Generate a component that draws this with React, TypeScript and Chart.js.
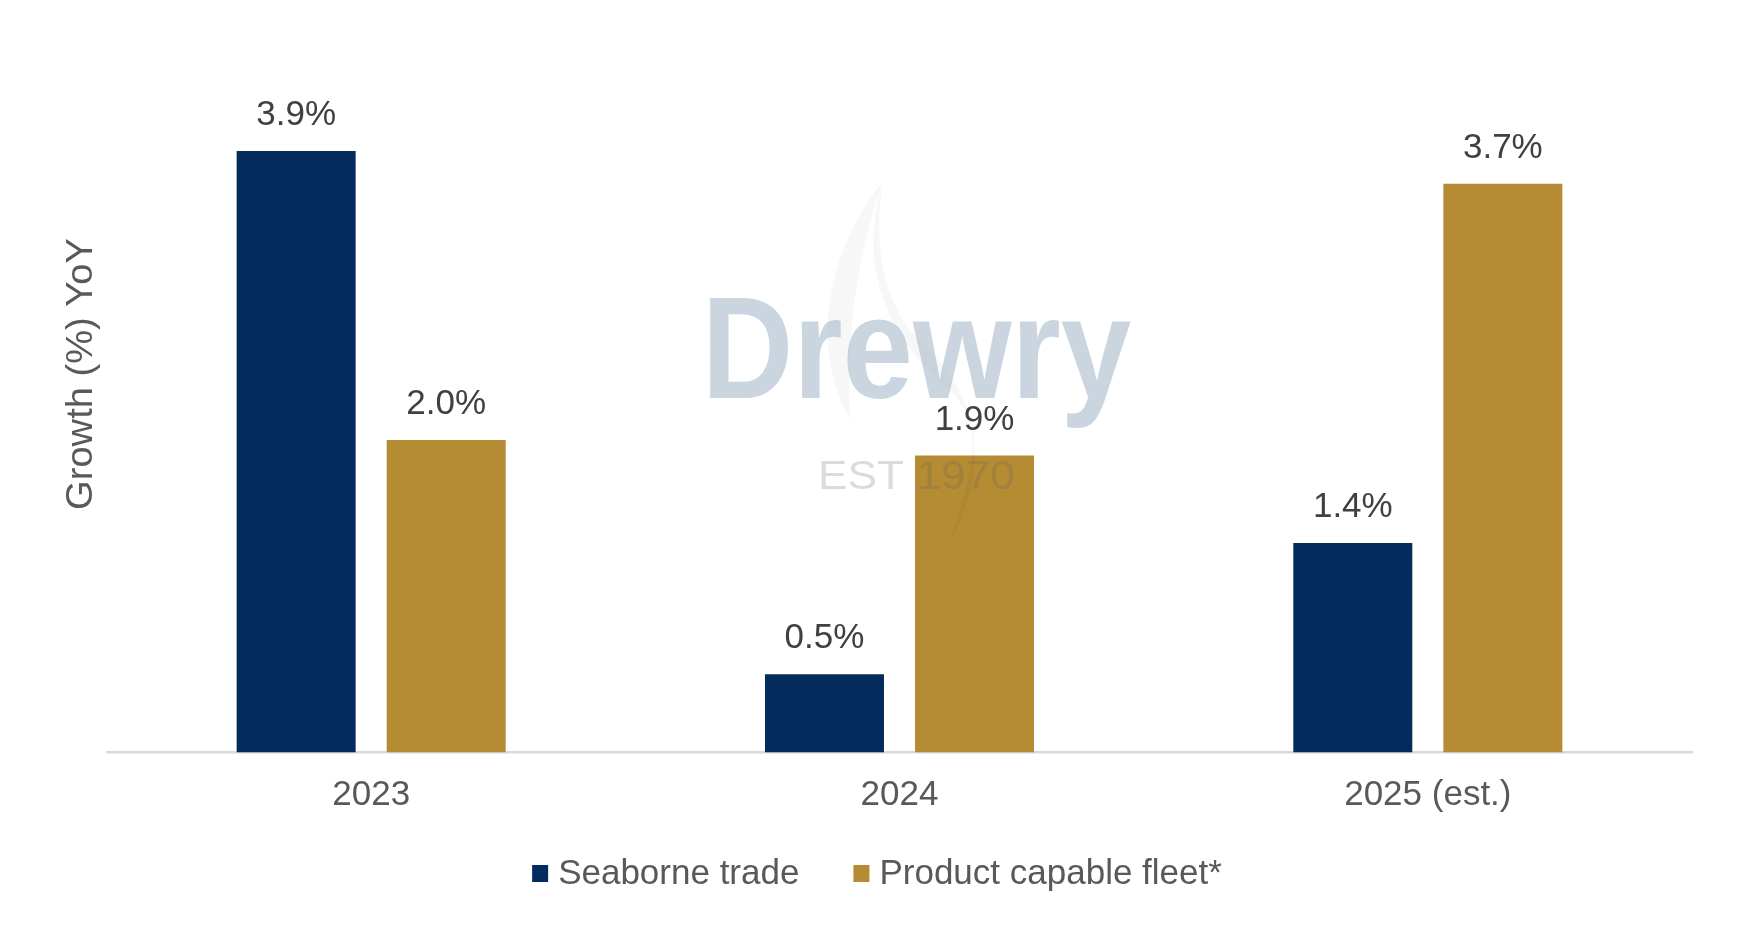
import React, { useEffect, useRef } from "react";
import { Chart, registerables, Plugin } from "chart.js";

Chart.register(...registerables);

const FONT = '"Liberation Sans", Arial, sans-serif';

// data
const years = ["2023", "2024", "2025 (est.)"];
const seaborneTrade = [3.85, 0.5, 1.34];
const productFleet = [2.0, 1.9, 3.64];
// labels as printed on the bars
const seaborneText = ["3.9%", "0.5%", "1.4%"];
const productText = ["2.0%", "1.9%", "3.7%"];
const seriesNames = ["Seaborne trade", "Product capable fleet*"];
const yTitle = "Growth (%) YoY";

const watermark: Plugin<"bar"> = {
  id: "watermark",
  afterDatasetsDraw(chart) {
    const { ctx, chartArea } = chart;
    const cx = (chartArea.left + chartArea.right) / 2 + 17;
    ctx.save();
    // faint flame behind the logo
    ctx.fillStyle = "rgba(0, 0, 0, 0.03)";
    ctx.beginPath();
    ctx.moveTo(cx - 34, 182);
    ctx.bezierCurveTo(cx - 82, 240, cx - 112, 340, cx - 66, 420);
    ctx.bezierCurveTo(cx - 72, 330, cx - 57, 250, cx - 34, 182);
    ctx.fill();
    ctx.beginPath();
    ctx.moveTo(cx - 34, 182);
    ctx.bezierCurveTo(cx - 57, 260, cx - 37, 330, cx + 33, 390);
    ctx.bezierCurveTo(cx + 73, 430, cx + 53, 480, cx + 33, 543);
    ctx.bezierCurveTo(cx + 73, 470, cx + 68, 400, cx + 3, 340);
    ctx.bezierCurveTo(cx - 37, 300, cx - 42, 240, cx - 34, 182);
    ctx.fill();

    ctx.textAlign = "center";
    ctx.textBaseline = "alphabetic";
    ctx.save();
    ctx.translate(cx, 398);
    ctx.scale(0.88, 1);
    ctx.font = `bold 144px ${FONT}`;
    ctx.fillStyle = "rgba(160, 178, 198, 0.55)";
    ctx.fillText("Drewry", 0, 0);
    ctx.restore();
    ctx.save();
    ctx.translate(cx, 489);
    ctx.scale(1.08, 1);
    ctx.font = `41px ${FONT}`;
    ctx.fillStyle = "rgba(90, 90, 90, 0.22)";
    ctx.fillText("EST 1970", 0, 0);
    ctx.restore();
    ctx.restore();
  },
};

const barLabels: Plugin<"bar"> = {
  id: "barLabels",
  afterDatasetsDraw(chart) {
    const { ctx } = chart;
    ctx.save();
    ctx.font = `35px ${FONT}`;
    ctx.fillStyle = "#404040";
    ctx.textAlign = "center";
    ctx.textBaseline = "alphabetic";
    chart.data.datasets.forEach((_, i) => {
      const texts = i === 0 ? seaborneText : productText;
      chart.getDatasetMeta(i).data.forEach((bar, j) => {
        ctx.fillText(texts[j], bar.x, bar.y - 26);
      });
    });
    ctx.restore();
  },
};

const sideTitle: Plugin<"bar"> = {
  id: "sideTitle",
  afterDraw(chart) {
    const { ctx } = chart;
    ctx.save();
    ctx.translate(92, 374);
    ctx.rotate(-Math.PI / 2);
    ctx.scale(1.03, 1);
    ctx.font = `37px ${FONT}`;
    ctx.fillStyle = "#595959";
    ctx.textAlign = "center";
    ctx.textBaseline = "alphabetic";
    ctx.fillText(yTitle, 0, 0);
    ctx.restore();
  },
};

const bottomLegend: Plugin<"bar"> = {
  id: "bottomLegend",
  afterDraw(chart) {
    const { ctx } = chart;
    const box = 16;
    const gapText = 10;
    const gapItem = 54;
    ctx.save();
    ctx.font = `35px ${FONT}`;
    const items = chart.data.datasets.map((ds) => ({
      text: String(ds.label),
      color: ds.backgroundColor as string,
      w: ctx.measureText(String(ds.label)).width,
    }));
    const total =
      items.reduce((s, it) => s + box + gapText + it.w, 0) +
      gapItem * (items.length - 1);
    let x = 877 - total / 2;
    items.forEach((it) => {
      ctx.fillStyle = it.color;
      ctx.fillRect(x, 865, box, box + 1);
      x += box + gapText;
      ctx.fillStyle = "#595959";
      ctx.textAlign = "left";
      ctx.textBaseline = "alphabetic";
      ctx.fillText(it.text, x, 884);
      x += it.w + gapItem;
    });
    ctx.restore();
  },
};

const App: React.FC = () => {
  const canvasRef = useRef<HTMLCanvasElement | null>(null);

  useEffect(() => {
    if (!canvasRef.current) return;
    const chart = new Chart(canvasRef.current, {
      type: "bar",
      data: {
        labels: years,
        datasets: [
          {
            label: seriesNames[0],
            data: seaborneTrade,
            backgroundColor: "#032B5B",
          },
          {
            label: seriesNames[1],
            data: productFleet,
            backgroundColor: "#B58C33",
          },
        ],
      },
      options: {
        animation: false,
        responsive: true,
        maintainAspectRatio: false,
        layout: { padding: { left: 107, right: 63, top: 49.5, bottom: 0 } },
        datasets: {
          bar: { categoryPercentage: 0.568, barPercentage: 0.793 },
        },
        plugins: {
          legend: { display: false },
          tooltip: { enabled: false },
        },
        scales: {
          x: {
            grid: { display: false, drawTicks: false },
            border: { display: true, color: "#D9D9D9", width: 2.5 },
            ticks: {
              color: "#595959",
              font: { size: 35, family: FONT },
              padding: 22,
            },
            afterFit: (scale) => {
              scale.height = 926 - 752.4;
            },
          },
          y: { display: false, min: 0, max: 4.5 },
        },
      },
      plugins: [watermark, barLabels, sideTitle, bottomLegend],
    });
    return () => chart.destroy();
  }, []);

  return (
    <div
      style={{
        position: "fixed",
        left: 0,
        top: 0,
        width: "1755px",
        height: "926px",
        background: "#ffffff",
      }}
    >
      <canvas ref={canvasRef}></canvas>
    </div>
  );
};

export default App;
